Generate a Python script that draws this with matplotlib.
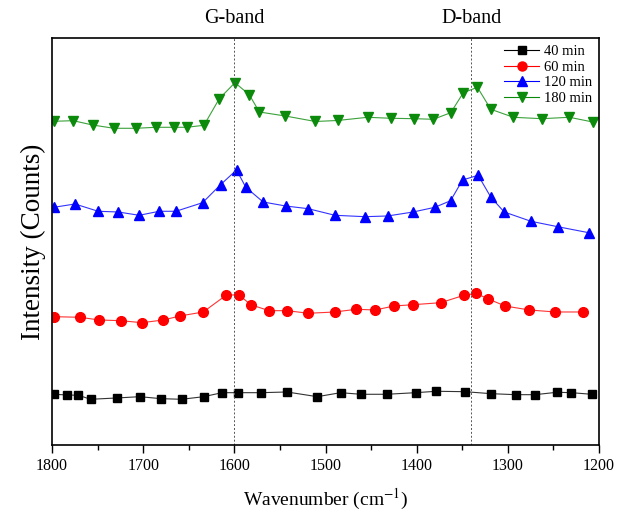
import matplotlib
matplotlib.use("Agg")
import matplotlib.pyplot as plt
from matplotlib.lines import Line2D

# Wavenumbers (cm^-1) and intensities (arbitrary counts)
wn_40 = [1797.8, 1783.2, 1771.1, 1757.5, 1729.0, 1703.8, 1680.1, 1657.7, 1633.6, 1613.5,
         1596.3, 1570.4, 1542.3, 1509.0, 1483.4, 1461.4, 1432.9, 1401.1, 1378.5, 1347.1,
         1318.2, 1291.4, 1270.3, 1246.1, 1230.4, 1208.1]
int_40 = [50.7, 50.0, 49.7, 45.7, 47.0, 48.3, 46.3, 45.7, 48.3, 52.3,
          52.3, 52.3, 53.0, 48.3, 52.3, 50.7, 50.7, 52.3, 53.7, 53.3,
          51.3, 50.3, 50.3, 52.7, 52.3, 50.7]

wn_60 = [1797.8, 1769.3, 1748.2, 1724.6, 1701.3, 1677.9, 1659.6, 1634.1, 1609.1, 1595.2,
         1582.0, 1562.0, 1541.9, 1518.8, 1489.6, 1466.5, 1445.4, 1424.9, 1403.7, 1373.7,
         1348.1, 1335.0, 1322.1, 1303.1, 1276.5, 1248.0, 1217.3]
int_60 = [128.3, 127.7, 125.0, 124.3, 122.3, 125.0, 129.0, 133.0, 149.7, 150.3,
          140.3, 134.3, 134.3, 131.7, 133.0, 135.7, 135.0, 139.0, 140.3, 142.3,
          149.7, 151.7, 146.3, 139.0, 135.0, 133.0, 133.0]

wn_120 = [1797.8, 1774.8, 1749.3, 1727.4, 1704.3, 1682.4, 1664.1, 1634.8, 1615.1, 1597.6,
          1587.4, 1568.4, 1543.8, 1519.0, 1489.7, 1456.8, 1431.9, 1403.8, 1380.0, 1362.8,
          1349.7, 1332.6, 1318.6, 1304.0, 1274.7, 1245.4, 1211.4]
int_120 = [237.7, 241.0, 233.7, 233.0, 229.7, 233.7, 233.7, 242.3, 260.3, 275.0,
           257.7, 243.0, 239.0, 236.3, 229.7, 228.3, 229.0, 233.0, 237.7, 244.3,
           265.0, 269.7, 247.7, 233.0, 223.7, 218.3, 212.3]

wn_180 = [1797.8, 1776.7, 1755.5, 1732.1, 1708.0, 1686.0, 1666.2, 1652.3, 1633.3, 1616.5,
          1599.3, 1583.6, 1572.6, 1544.1, 1511.2, 1486.8, 1453.7, 1428.1, 1402.6, 1381.7,
          1362.6, 1348.8, 1333.4, 1318.7, 1293.9, 1262.8, 1232.5, 1206.9]
int_180 = [323.7, 324.3, 320.0, 316.7, 316.7, 317.7, 317.7, 317.7, 319.7, 346.3,
           362.3, 350.3, 333.0, 329.0, 323.5, 324.5, 327.7, 326.7, 326.3, 325.7,
           332.3, 352.3, 357.7, 335.7, 327.7, 326.3, 327.7, 323.0]

labels = ["40 min", "60 min", "120 min", "180 min"]
band_pos = [1600, 1340]
band_names = ["G-band", "D-band"]
x_ticks = [1800, 1700, 1600, 1500, 1400, 1300, 1200]

plt.rcParams['font.family'] = ['Liberation Serif', 'DejaVu Serif']
plt.rcParams['mathtext.fontset'] = 'stix'

fig = plt.figure(figsize=(6.18, 5.12), dpi=100)
ax = fig.add_axes([0.0841, 0.1309, 0.8852, 0.7949])

series = [
    (wn_40, int_40, 'black', 's', 6.0),
    (wn_60, int_60, '#ff0000', 'o', 7.0),
    (wn_120, int_120, '#0000ff', '^', 7.5),
    (wn_180, int_180, '#0b8a0b', 'v', 7.5),
]
handles = []
for (x, y, c, m, ms), lab in zip(series, labels):
    ax.plot(x, y, color=c, lw=0.8, alpha=0.8)
    ax.plot(x, y, ls='none', marker=m, color=c, ms=ms, mec=c)
    handles.append(Line2D([], [], color=c, lw=0.8, marker=m, ms=ms - 0.5, label=lab))

for bp, bn in zip(band_pos, band_names):
    ax.axvline(bp, color='#555555', lw=0.7, ls=(0, (2, 2)))
    ax.text(bp, 1.025, bn, transform=ax.get_xaxis_transform(), ha='center', va='bottom',
            fontsize=14.5)

ax.set_xlim(1800, 1200)
ax.set_ylim(0, 407)
ax.set_xticks(x_ticks)
ax.set_xticks(range(1750, 1200, -100), minor=True)
ax.tick_params(axis='x', which='major', direction='out', length=6, width=1, labelsize=11.5)
ax.tick_params(axis='x', which='minor', direction='out', length=3.5, width=1)
ax.set_yticks([])
for s in ax.spines.values():
    s.set_linewidth(1.2)

ax.set_xlabel("Wavenumber (cm$^{-1}$)", fontsize=14, labelpad=9)
ax.set_ylabel("Intensity (Counts)", fontsize=19.5, labelpad=4)

leg = ax.legend(handles=handles, loc='upper right', frameon=False, fontsize=10.5,
                handlelength=2.4, handletextpad=0.3, labelspacing=0.15,
                borderaxespad=0.1)

fig.savefig("out.png", dpi=100)
